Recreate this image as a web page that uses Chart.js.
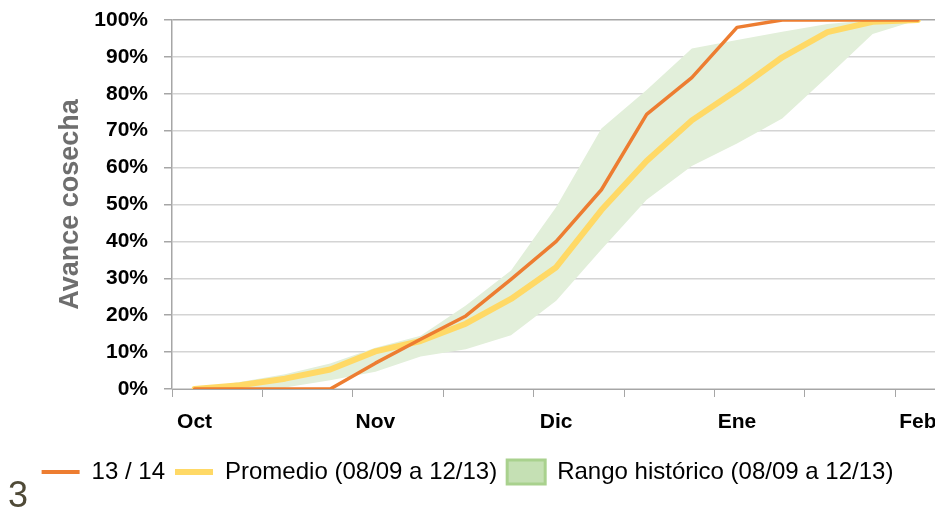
<!DOCTYPE html>
<html>
<head>
<meta charset="utf-8">
<script src="https://cdn.jsdelivr.net/npm/chart.js@4"></script>
<style>
  html, body { margin: 0; padding: 0; background: #fff; overflow: hidden; }
  #wrap { position: relative; width: 935px; height: 510px; }
  #slideNum { position: absolute; left: 8px; top: 477px; font: 36px/1 "Liberation Sans", Arial, sans-serif; color: #4f4a37; }
</style>
</head>
<body>
<div id="wrap">
  <canvas id="avance"></canvas>
  <div id="slideNum">3</div>
</div>
<script>
// semanas desde inicio de octubre (un punto por semana)
const semanas = [0, 1, 2, 3, 4, 5, 6, 7, 8, 9, 10, 11, 12, 13, 14, 15, 16];
// avance de cosecha en %
const cosecha1314 = [0, 0, 0, 0, 7, 13.5, 19.8, 29.7, 40, 54, 74.4, 84.4, 98, 100, 100, 100, 100];
const promedio    = [0, 1, 2.8, 5.3, 10.2, 13, 17.7, 24.4, 33, 48.5, 61.8, 72.8, 81, 89.9, 96.7, 99.5, 100];
const rangoMin    = [0, 0, 0.4, 2.4, 4.7, 8.8, 10.8, 14.6, 23.9, 37.8, 51.3, 60.4, 66.5, 73.3, 84.6, 96.2, 100];
const rangoMax    = [0, 1.9, 4, 6.9, 11.2, 14.4, 22.6, 32.1, 49.3, 70.6, 81, 92.3, 94.6, 96.8, 98.9, 100, 100];

// eje x: etiquetas de mes y marcas cada quincena
const meses    = ['Oct', 'Nov', 'Dic', 'Ene', 'Feb'];
const mesesPos = [0, 4, 8, 12, 16];
const marcasPos = [-0.5, 1.5, 3.5, 5.5, 7.5, 9.5, 11.5, 13.5, 15.5];

const NARANJA = '#ED7D31';
const AMARILLO = '#FFD966';
const VERDE = '#E2EFDA';
const FONT = '"Liberation Sans", Arial, sans-serif';

const pts = arr => arr.map((v, i) => ({ x: semanas[i], y: v }));

new Chart(document.getElementById('avance'), {
  type: 'line',
  data: {
    datasets: [
      { label: '13 / 14', data: pts(cosecha1314), borderColor: NARANJA, borderWidth: 3.5, fill: false },
      { label: 'Promedio (08/09 a 12/13)', data: pts(promedio), borderColor: AMARILLO, borderWidth: 6, fill: false },
      { label: 'min', data: pts(rangoMin), borderColor: 'rgba(0,0,0,0)', borderWidth: 0, fill: false },
      { label: 'Rango histórico (08/09 a 12/13)', data: pts(rangoMax), borderColor: 'rgba(0,0,0,0)', borderWidth: 0,
        backgroundColor: VERDE, fill: '-1' }
    ]
  },
  options: {
    responsive: true,
    maintainAspectRatio: false,
    animation: false,
    layout: { padding: { top: 20, bottom: 16, left: 0, right: 0 } },
    elements: {
      point: { radius: 0 },
      line: { tension: 0, borderJoinStyle: 'round', borderCapStyle: 'round' }
    },
    plugins: {
      tooltip: { enabled: false },
      legend: {
        position: 'bottom',
        labels: {
          usePointStyle: true,
          pointStyleWidth: 38,
          boxHeight: 26,
          padding: 10,
          color: '#000',
          font: { family: FONT, size: 24 },
          generateLabels: chart => {
            const ds = chart.data.datasets;
            return [
              { text: ds[0].label, strokeStyle: NARANJA, fillStyle: NARANJA, lineWidth: 4, pointStyle: 'line', datasetIndex: 0 },
              { text: ds[1].label, strokeStyle: AMARILLO, fillStyle: AMARILLO, lineWidth: 6, pointStyle: 'line', datasetIndex: 1 },
              { text: ds[3].label, strokeStyle: '#A9D18E', fillStyle: '#C5E0B4', lineWidth: 3, pointStyle: 'rect', datasetIndex: 3 }
            ];
          }
        }
      }
    },
    scales: {
      x: {
        type: 'linear',
        min: -0.5,
        max: 16.38,
        afterBuildTicks: s => {
          s.ticks = [...marcasPos, ...mesesPos].sort((a, b) => a - b).map(v => ({ value: v }));
        },
        afterFit: s => { s.height = 61; s.paddingLeft = 0; s.paddingRight = 0; },
        border: { color: '#A6A6A6', width: 1 },
        grid: {
          drawOnChartArea: false,
          tickLength: 8,
          tickColor: c => mesesPos.includes(c.tick.value) ? 'rgba(0,0,0,0)' : '#A6A6A6'
        },
        ticks: {
          autoSkip: false,
          maxRotation: 0,
          padding: 13,
          color: '#000',
          font: { family: FONT, size: 21, weight: 'bold' },
          callback: v => {
            const k = mesesPos.indexOf(v);
            return k >= 0 ? meses[k] : '';
          }
        }
      },
      y: {
        min: 0,
        max: 100,
        afterFit: s => { s.width = 172; s.paddingTop = 0; s.paddingBottom = 0; },
        border: { color: '#A6A6A6', width: 1.5 },
        grid: {
          color: c => c.tick.value === 100 ? '#A6A6A6' : '#D4D4D4',
          lineWidth: 1.5,
          tickColor: '#A6A6A6',
          tickLength: 8
        },
        ticks: {
          stepSize: 10,
          padding: 16,
          color: '#000',
          font: { family: FONT, size: 21, weight: 'bold' },
          callback: v => v + '%'
        },
        title: {
          display: true,
          text: 'Avance cosecha',
          color: '#6E6E6E',
          font: { family: FONT, size: 27, weight: 'bold' },
          padding: { top: 54, bottom: 0 }
        }
      }
    }
  }
});
</script>
</body>
</html>
